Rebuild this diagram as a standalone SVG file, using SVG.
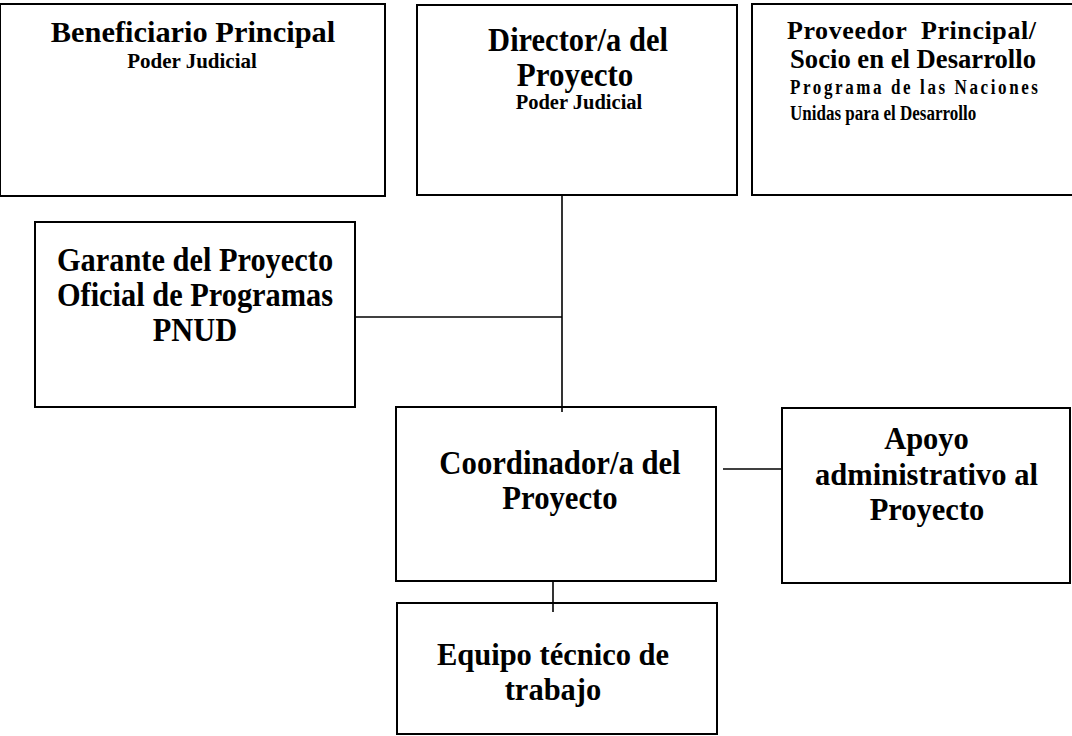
<svg xmlns="http://www.w3.org/2000/svg" width="1072" height="736" viewBox="0 0 1072 736">
<style>
rect.box{fill:#fff;stroke:#000;stroke-width:2}
.conn line{stroke:#000;stroke-width:1.6}
text{font-family:"Liberation Serif","Times New Roman",serif;font-weight:bold;fill:#000}
.m{text-anchor:middle}
</style>
<rect x="0" y="0" width="1072" height="736" fill="#fff"/>
<g id="beneficiario">
<rect class="box" x="0" y="4" width="385" height="192"/>
<text class="m" x="193" y="42" font-size="30.4">Beneficiario Principal</text>
<text class="m" x="192" y="68" font-size="21">Poder Judicial</text>
</g>
<g id="director">
<rect class="box" x="417" y="5" width="320" height="190"/>
<text class="m" font-size="30.5" transform="translate(578 51) scale(1 1.08)">Director/a del</text>
<text class="m" font-size="31" transform="translate(575 86) scale(1 1.08)">Proyecto</text>
<text class="m" font-size="20.5" transform="translate(579 109)">Poder Judicial</text>
</g>
<g id="proveedor">
<rect class="box" x="752" y="4" width="322" height="191"/>
<text x="787" y="39" font-size="26" textLength="249" lengthAdjust="spacing" xml:space="preserve">Proveedor  Principal/</text>
<text x="790" y="68" font-size="26.5" textLength="246" lengthAdjust="spacingAndGlyphs">Socio en el Desarrollo</text>
<text font-size="17" textLength="248" lengthAdjust="spacing" transform="translate(790 94) scale(1 1.25)">Programa de las Naciones</text>
<text font-size="17" transform="translate(790 120) scale(1 1.25)">Unidas para el Desarrollo</text>
</g>
<g id="garante">
<rect class="box" x="35" y="222" width="320" height="185"/>
<text class="m" font-size="30.4" transform="translate(195 271) scale(1 1.1)">Garante del Proyecto</text>
<text class="m" font-size="30.4" transform="translate(195 306) scale(1 1.1)">Oficial de Programas</text>
<text class="m" font-size="30.4" transform="translate(195 341) scale(1 1.1)">PNUD</text>
</g>
<g id="coordinador">
<rect class="box" x="396" y="407" width="320" height="174"/>
<text class="m" font-size="30.7" transform="translate(560 474) scale(1 1.07)">Coordinador/a del</text>
<text class="m" font-size="30.7" transform="translate(560 509) scale(1 1.07)">Proyecto</text>
</g>
<g id="apoyo">
<rect class="box" x="782" y="408" width="288" height="175"/>
<text class="m" x="926.5" y="449" font-size="30.5">Apoyo</text>
<text class="m" x="926.5" y="485" font-size="30.5">administrativo al</text>
<text class="m" x="927" y="520" font-size="30.5">Proyecto</text>
</g>
<g id="equipo">
<rect class="box" x="397" y="603" width="320" height="131"/>
<text class="m" x="553" y="665" font-size="30.5">Equipo técnico de</text>
<text class="m" x="553" y="700" font-size="30.5">trabajo</text>
</g>
<g id="connectors" class="conn">
<line x1="562" y1="195" x2="562" y2="412"/>
<line x1="355" y1="317" x2="562" y2="317"/>
<line x1="723" y1="469" x2="782" y2="469"/>
<line x1="553" y1="581" x2="553" y2="612"/>
</g>
</svg>
